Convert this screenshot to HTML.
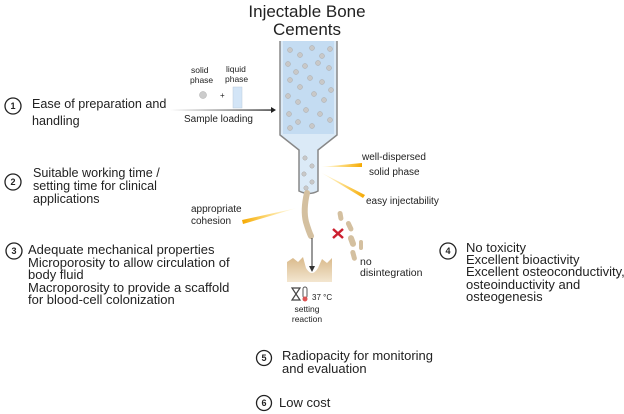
<!DOCTYPE html>
<html><head><meta charset="utf-8"><style>
html,body{margin:0;padding:0;background:#fff;}
svg{display:block;}
text{font-family:"Liberation Sans",Arial,sans-serif;fill:#222;}
</style></head><body>
<svg width="624" height="414" viewBox="0 0 624 414" xmlns="http://www.w3.org/2000/svg">
<defs>
<linearGradient id="ray" x1="0" x2="1"><stop offset="0" stop-color="#ffc400" stop-opacity="0"/><stop offset="1" stop-color="#f5a800"/></linearGradient>
<linearGradient id="ray2" x1="1" x2="0"><stop offset="0" stop-color="#ffc400" stop-opacity="0"/><stop offset="1" stop-color="#f5a800"/></linearGradient>
<linearGradient id="arr" x1="0" x2="1"><stop offset="0" stop-color="#fff"/><stop offset="1" stop-color="#222"/></linearGradient>
<linearGradient id="bone" x1="0" x2="0" y1="0" y2="1"><stop offset="0" stop-color="#d9b98a"/><stop offset="1" stop-color="#f3e6d0"/></linearGradient>
</defs>
<text x="307" y="17" font-size="17" text-anchor="middle">Injectable Bone</text>
<text x="307" y="35" font-size="17" text-anchor="middle">Cements</text>
<!-- syringe -->
<path d="M280 41 V135 L299 150 V191 Q309 196 318 191 V150 L337 135 V41" fill="#dbeaf7" stroke="#888" stroke-width="1.5"/>
<rect x="283" y="41" width="51" height="93" fill="#c4dcf2"/>
<g fill="#c8c8c8" stroke="#aaa" stroke-width="0.5">
<circle cx="290" cy="50" r="2.5"/><circle cx="300" cy="55" r="2.5"/><circle cx="312" cy="48" r="2.5"/><circle cx="322" cy="56" r="2.5"/><circle cx="330" cy="49" r="2.5"/>
<circle cx="288" cy="64" r="2.5"/><circle cx="305" cy="66" r="2.5"/><circle cx="318" cy="63" r="2.5"/><circle cx="329" cy="68" r="2.5"/><circle cx="296" cy="72" r="2.5"/>
<circle cx="290" cy="80" r="2.5"/><circle cx="310" cy="78" r="2.5"/><circle cx="322" cy="82" r="2.5"/><circle cx="300" cy="87" r="2.5"/><circle cx="331" cy="90" r="2.5"/>
<circle cx="288" cy="96" r="2.5"/><circle cx="314" cy="94" r="2.5"/><circle cx="324" cy="100" r="2.5"/><circle cx="298" cy="102" r="2.5"/><circle cx="306" cy="110" r="2.5"/>
<circle cx="289" cy="114" r="2.5"/><circle cx="320" cy="114" r="2.5"/><circle cx="330" cy="120" r="2.5"/><circle cx="298" cy="122" r="2.5"/><circle cx="312" cy="126" r="2.5"/><circle cx="290" cy="128" r="2.5"/>
<circle cx="305" cy="158" r="2.2"/><circle cx="312" cy="166" r="2.2"/><circle cx="304" cy="174" r="2.2"/><circle cx="312" cy="182" r="2.2"/><circle cx="306" cy="188" r="2.2"/>
</g>
<!-- strand -->
<path d="M307 193 Q303 210 306 222 Q309 232 311 236" stroke="#d4c0a0" stroke-width="6" fill="none" stroke-linecap="round"/>
<line x1="312" y1="238" x2="312" y2="268" stroke="#333" stroke-width="1"/>
<path d="M309 266 L312 272 L315 266 Z" fill="#333"/>
<!-- bone -->
<path d="M287 282 V262 L293 258 L298 262 L303 257 L306 268 Q312 278 318 268 L322 259 L327 263 L332 258 V282 Z" fill="url(#bone)"/>
<!-- fragments -->
<g fill="#d4c0a0">
<rect x="338" y="211" width="5" height="10" rx="2.5" transform="rotate(-10 340 216)"/>
<rect x="347" y="221" width="5" height="11" rx="2.5" transform="rotate(-25 349 226)"/>
<rect x="349" y="235" width="6" height="12" rx="3" transform="rotate(-20 352 241)"/>
<rect x="359" y="240" width="4" height="10" rx="2"/>
<rect x="351" y="250" width="5" height="11" rx="2.5" transform="rotate(-15 353 255)"/>
</g>
<path d="M333 229 L343 238 M343 229 L333 238" stroke="#cc2030" stroke-width="2.5"/>
<text x="360" y="265" font-size="10.5">no</text>
<text x="360" y="276" font-size="10.5">disintegration</text>
<!-- hourglass & thermometer -->
<path d="M292 288 H300 L296 294 L300 300 H292 L296 294 Z" fill="none" stroke="#444" stroke-width="1.2"/>
<rect x="303" y="287" width="4" height="11" rx="2" fill="none" stroke="#555"/><circle cx="305" cy="299" r="2.5" fill="#d55"/>
<text x="312" y="300" font-size="8">37 °C</text>
<text x="307" y="312" font-size="8.5" text-anchor="middle">setting</text>
<text x="307" y="322" font-size="8.5" text-anchor="middle">reaction</text>
<!-- rays -->
<polygon points="320,167 362,163 362,167" fill="url(#ray)"/>
<polygon points="320,172 365,195 363,198" fill="url(#ray)"/>
<polygon points="297,208 242,220 243,224" fill="url(#ray2)"/>
<text x="362" y="160" font-size="10">well-dispersed</text>
<text x="369" y="175" font-size="10">solid phase</text>
<text x="366" y="204" font-size="10">easy injectability</text>
<text x="191" y="212" font-size="10">appropriate</text>
<text x="191" y="224" font-size="10">cohesion</text>
<!-- solid/liquid -->
<text x="191" y="73" font-size="8.5">solid</text>
<text x="190" y="83" font-size="8.5">phase</text>
<text x="226" y="72" font-size="8.5">liquid</text>
<text x="225" y="82" font-size="8.5">phase</text>
<circle cx="203" cy="95" r="3.5" fill="#ccc" stroke="#aaa" stroke-width="0.5"/>
<text x="220" y="98" font-size="8">+</text>
<rect x="233" y="87" width="9" height="21" fill="#d3e5f7" stroke="#bcd" stroke-width="0.5"/>
<rect x="170" y="109.4" width="102" height="1.3" fill="url(#arr)"/>
<path d="M271 107 L276 110 L271 113 Z" fill="#222"/>
<text x="184" y="122" font-size="10">Sample loading</text>
<!-- numbered -->
<g fill="none" stroke="#222" stroke-width="1.3">
<circle cx="13" cy="106" r="8"/><circle cx="13" cy="182" r="8"/><circle cx="14" cy="251" r="8"/><circle cx="448" cy="251" r="8"/><circle cx="264" cy="358" r="7.5"/><circle cx="264" cy="403" r="7.5"/>
</g>
<g font-size="9" font-weight="bold" text-anchor="middle">
<text x="13" y="109">1</text><text x="13" y="185">2</text><text x="14" y="254">3</text><text x="448" y="254">4</text><text x="264" y="361">5</text><text x="264" y="406">6</text>
</g>
<g font-size="12.6">
<text x="32" y="108">Ease of preparation and</text>
<text x="32" y="125">handling</text>
<text x="33" y="177">Suitable working time /</text>
<text x="33" y="190">setting time for clinical</text>
<text x="33" y="203">applications</text>
</g>
<g font-size="13">
<text x="28" y="254">Adequate mechanical properties</text>
<text x="28" y="267">Microporosity to allow circulation of</text>
<text x="28" y="279">body fluid</text>
<text x="28" y="292">Macroporosity to provide a scaffold</text>
<text x="28" y="304">for blood-cell colonization</text>
<text x="466" y="252">No toxicity</text>
<text x="466" y="264">Excellent bioactivity</text>
<text x="466" y="276">Excellent osteoconductivity,</text>
<text x="466" y="289">osteoinductivity and</text>
<text x="466" y="301">osteogenesis</text>
<text x="282" y="360">Radiopacity for monitoring</text>
<text x="282" y="373">and evaluation</text>
<text x="279" y="407">Low cost</text>
</g>
</svg>
</body></html>
